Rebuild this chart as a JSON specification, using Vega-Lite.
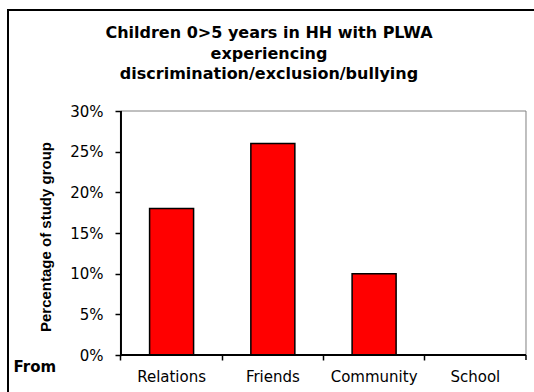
{
  "$schema": "https://vega.github.io/schema/vega-lite/v6.json",
  "width": 530,
  "height": 386,
  "autosize": {"type": "none"},
  "padding": {"left": 8, "top": 10, "right": 0, "bottom": 0},
  "background": "white",
  "config": {
    "view": {"stroke": "black", "strokeWidth": 2},
    "font": "DejaVu Sans",
    "axisX": {
      "tickColor": "black",
      "tickWidth": 1.5,
      "tickSize": 5,
      "labelAngle": 0,
      "labelAlign": "center",
      "labelPadding": 9,
      "labelFont": "DejaVu Sans",
      "labelFontSize": 15,
      "labelColor": "black",
      "titleFont": "DejaVu Sans",
      "titleFontSize": 15,
      "titleFontWeight": "bold",
      "titleColor": "black"
    },
    "axisY": {
      "tickColor": "black",
      "tickWidth": 1.5,
      "tickSize": 6,
      "labelPadding": 12,
      "labelFont": "DejaVu Sans",
      "labelFontSize": 15,
      "labelColor": "black",
      "titleFont": "Liberation Sans",
      "titleFontSize": 15,
      "titleFontWeight": "bold",
      "titleColor": "black"
    }
  },
  "title": {
    "text": ["Children 0>5 years in HH with PLWA", "experiencing", "discrimination/exclusion/bullying"],
    "anchor": "middle",
    "frame": "group",
    "font": "DejaVu Sans",
    "fontSize": 16,
    "fontWeight": "bold",
    "lineHeight": 20.5,
    "baseline": "top",
    "offset": -59,
    "dy": 13,
    "dx": -4,
    "color": "black"
  },
  "data": {
    "values": [
      {"source": "Relations", "share": 0.18},
      {"source": "Friends", "share": 0.26},
      {"source": "Community", "share": 0.10},
      {"source": "School", "share": 0}
    ]
  },
  "layer": [
    {
      "data": {"values": [{}]},
      "mark": {"type": "rect", "fill": null, "stroke": "#808080", "strokeWidth": 1},
      "encoding": {
        "x": {"datum": "Relations", "bandPosition": -0.6505, "title": "From"},
        "x2": {"datum": "School", "bandPosition": 1.6505},
        "y": {"datum": 0.30, "title": "Percentage of study group"},
        "y2": {"datum": 0}
      }
    },
    {
      "mark": {"type": "bar", "fill": "#ff0000", "stroke": "black", "strokeWidth": 1.5},
      "encoding": {
        "x": {
          "field": "source",
          "type": "nominal",
          "title": "From",
          "scale": {
            "domain": ["Relations", "Friends", "Community", "School"],
            "paddingInner": 0.5654,
            "paddingOuter": 0.8998,
            "align": 0.777
          },
          "axis": {
            "bandPosition": -0.6505,
            "tickExtra": false,
            "domain": false,
            "grid": false,
            "offset": -41,
            "titleX": 5,
            "titleY": 16,
            "titleAlign": "left",
            "titleBaseline": "alphabetic"
          }
        },
        "y": {
          "field": "share",
          "type": "quantitative",
          "title": "Percentage of study group",
          "scale": {"domain": [-0.0504, 0.4242], "nice": false, "zero": false},
          "axis": {
            "values": [0, 0.05, 0.1, 0.15, 0.2, 0.25, 0.3],
            "format": ".0%",
            "domain": false,
            "grid": false,
            "offset": -113,
            "titleAngle": -90,
            "titleX": -76,
            "titleY": 226.5,
            "titleAlign": "center",
            "titleBaseline": "middle"
          }
        },
        "y2": {"datum": 0}
      }
    },
    {
      "data": {"values": [{}]},
      "mark": {"type": "rule", "color": "black", "strokeWidth": 1.5},
      "encoding": {
        "x": {"datum": "School", "bandPosition": 1.6505, "title": "From"},
        "y": {"datum": 0, "title": "Percentage of study group"},
        "y2": {"datum": -0.0062}
      }
    },
    {
      "data": {"values": [{}]},
      "mark": {"type": "rule", "color": "black", "strokeWidth": 2},
      "encoding": {
        "x": {"datum": "Relations", "bandPosition": -0.6505, "title": "From"},
        "y": {"datum": 0.30, "title": "Percentage of study group"},
        "y2": {"datum": 0}
      }
    },
    {
      "data": {"values": [{}]},
      "mark": {"type": "rule", "color": "black", "strokeWidth": 2},
      "encoding": {
        "x": {"datum": "Relations", "bandPosition": -0.6505, "title": "From"},
        "x2": {"datum": "School", "bandPosition": 1.6505},
        "y": {"datum": 0, "title": "Percentage of study group"}
      }
    }
  ]
}
